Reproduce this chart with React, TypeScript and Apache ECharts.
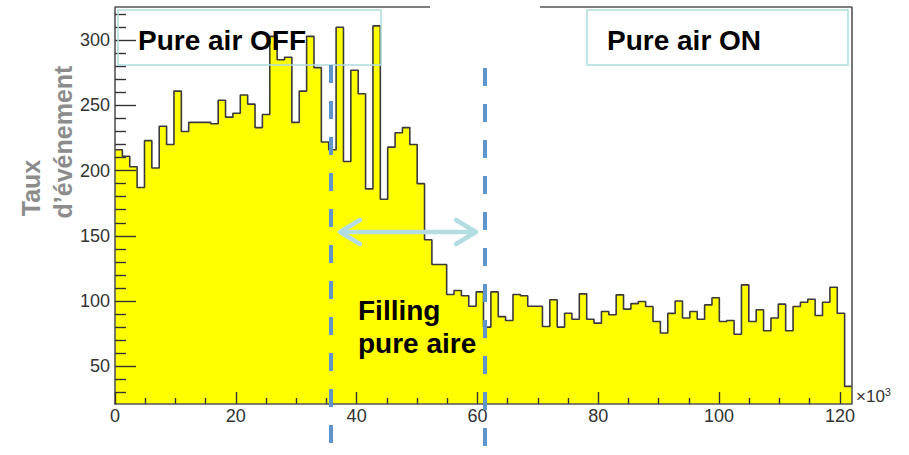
import React, { useEffect, useRef } from "react";
import * as echarts from "echarts";

// Histogram: 100 bins from 0 to 122 (x 10^3)
const binWidth = 1.22;
const counts = [
  216, 211, 203, 187, 223, 202, 234, 220, 261, 230,
  237, 237, 237, 236, 254, 241, 244, 258, 251, 233,
  243, 303, 285, 287, 237, 261, 303, 279, 222, 216,
  310, 207, 277, 259, 186, 311, 178, 218, 229, 233,
  220, 190, 147, 128, 128, 105, 108, 104, 96, 107,
  80, 107, 88, 85, 105, 104, 96, 96, 80.5, 101,
  80, 90.6, 86, 105.5, 86, 83, 92, 89.4, 104.7, 93.8,
  98, 99.6, 95.8, 84.3, 75.5, 90.5, 100, 87, 92, 86,
  97, 102.5, 84.3, 85, 74.5, 112.4, 84.3, 93.3, 77.2, 87,
  97.6, 77.2, 95.8, 99.1, 101.4, 88.9, 99.1, 110.6, 90.6, 34.5,
];

const xMajorTicks = [0, 20, 40, 60, 80, 100, 120];
const xMinorTicks = [5, 10, 15, 25, 30, 35, 45, 50, 55, 65, 70, 75, 85, 90, 95, 105, 110, 115];
const yMajorTicks = [50, 100, 150, 200, 250, 300];
const yMinorTicks = [30, 40, 60, 70, 80, 90, 110, 120, 130, 140, 160, 170, 180, 190, 210, 220, 230, 240, 260, 270, 280, 290, 310, 320];

const yTitleLines = ["Taux", "d\u2019\u00e9v\u00e9nement"];
const boxLabels = ["Pure air OFF", "Pure air ON"];
const fillingLabel = ["Filling", "pure aire"];

const FONT = "'Liberation Sans', Arial, Helvetica, sans-serif";

export default function App() {
  const ref = useRef<HTMLDivElement>(null);

  useEffect(() => {
    if (!ref.current) return;
    const chart = echarts.init(ref.current, undefined, { renderer: "svg" });

    const stepData: number[][] = counts.map((v, i) => [i * binWidth, v]);
    stepData.push([counts.length * binWidth, counts[counts.length - 1]]);

    const axisLineStyle = { color: "#555", width: 1.6 };
    const tickStyle = { color: "#333", width: 1.4 };

    const option: any = {
      animation: false,
      backgroundColor: "#fff",
      grid: { left: 115, right: 57, top: 7, bottom: 51, containLabel: false },
      xAxis: [
        {
          type: "value",
          min: 0,
          max: counts.length * binWidth,
          z: 10,
          splitLine: { show: false },
          axisLine: { show: true, lineStyle: axisLineStyle },
          axisTick: { show: true, inside: true, length: 12, customValues: xMajorTicks, lineStyle: tickStyle },
          axisLabel: {
            customValues: xMajorTicks,
            fontSize: 18,
            color: "#333",
            fontFamily: FONT,
            margin: 3,
          },
        },
        {
          type: "value",
          min: 0,
          max: counts.length * binWidth,
          z: 10,
          position: "bottom",
          splitLine: { show: false },
          axisLine: { show: false },
          axisTick: { show: true, inside: true, length: 6, customValues: xMinorTicks, lineStyle: tickStyle },
          axisLabel: { show: false },
        },
      ],
      yAxis: [
        {
          type: "value",
          min: 21,
          max: 325.5,
          z: 10,
          splitLine: { show: false },
          axisLine: { show: true, lineStyle: axisLineStyle },
          axisTick: { show: true, inside: true, length: 21, customValues: yMajorTicks, lineStyle: tickStyle },
          axisLabel: {
            customValues: yMajorTicks,
            fontSize: 18,
            color: "#333",
            fontFamily: FONT,
            margin: 5,
          },
        },
        {
          type: "value",
          min: 21,
          max: 325.5,
          z: 10,
          position: "left",
          splitLine: { show: false },
          axisLine: { show: false },
          axisTick: { show: true, inside: true, length: 11, customValues: yMinorTicks, lineStyle: tickStyle },
          axisLabel: { show: false },
        },
      ],
      series: [
        {
          type: "line",
          xAxisIndex: 0,
          yAxisIndex: 0,
          step: "end",
          symbol: "none",
          data: stepData,
          lineStyle: { color: "#3a3a3a", width: 1.6 },
          areaStyle: { color: "#ffff00", opacity: 1, origin: "start" },
          z: 2,
        },
      ],
      graphic: [
        // frame (top & right)
        { type: "line", z: 50, shape: { x1: 115, y1: 7, x2: 430, y2: 7 }, style: { stroke: "#555", lineWidth: 1.6 } },
        { type: "line", z: 50, shape: { x1: 540, y1: 7, x2: 852, y2: 7 }, style: { stroke: "#555", lineWidth: 1.6 } },
        { type: "line", z: 50, shape: { x1: 852, y1: 7, x2: 852, y2: 404 }, style: { stroke: "#555", lineWidth: 1.6 } },
        // x10^3
        {
          type: "text",
          z: 50,
          x: 856,
          y: 396,
          style: {
            text: "{a|\u00d710}{b|3}",
            rich: {
              a: { fontSize: 17, fontFamily: FONT, fill: "#333" },
              b: { fontSize: 11, fontFamily: FONT, fill: "#333", verticalAlign: "top", padding: [0, 0, 9, 0] },
            },
            verticalAlign: "middle",
          },
        },
        // y title
        {
          type: "text",
          z: 50,
          x: 31,
          y: 188,
          rotation: Math.PI / 2,
          style: { text: yTitleLines[0], font: `bold 25px ${FONT}`, fill: "#8c8c8c", align: "center", verticalAlign: "middle" },
        },
        {
          type: "text",
          z: 50,
          x: 63,
          y: 142,
          rotation: Math.PI / 2,
          style: { text: yTitleLines[1], font: `bold 25px ${FONT}`, fill: "#8c8c8c", align: "center", verticalAlign: "middle" },
        },
        // boxes
        { type: "rect", z: 50, shape: { x: 118, y: 10, width: 263, height: 55 }, style: { fill: "none", stroke: "#aedcdf", lineWidth: 1.5 } },
        { type: "rect", z: 50, shape: { x: 587, y: 10, width: 261, height: 55 }, style: { fill: "none", stroke: "#aedcdf", lineWidth: 1.5 } },
        {
          type: "text",
          z: 60,
          x: 138,
          y: 40,
          style: { text: boxLabels[0], font: `bold 28px ${FONT}`, fill: "#000", verticalAlign: "middle" },
        },
        {
          type: "text",
          z: 60,
          x: 607,
          y: 40,
          style: { text: boxLabels[1], font: `bold 28px ${FONT}`, fill: "#000", verticalAlign: "middle" },
        },
        // dashed lines
        {
          type: "line",
          z: 55,
          shape: { x1: 331, y1: 65, x2: 331, y2: 455 },
          style: { stroke: "#5f95c9", lineWidth: 4, lineDash: [18, 18] },
        },
        {
          type: "line",
          z: 55,
          shape: { x1: 485, y1: 68, x2: 485, y2: 455 },
          style: { stroke: "#5f95c9", lineWidth: 4, lineDash: [18, 18] },
        },
        // double arrow
        {
          type: "line",
          z: 56,
          shape: { x1: 340, y1: 232, x2: 476, y2: 232 },
          style: { stroke: "#b3dde2", lineWidth: 4.5 },
        },
        {
          type: "polyline",
          z: 56,
          shape: { points: [[360, 220], [340, 232], [360, 244]] },
          style: { stroke: "#b3dde2", lineWidth: 4.5, fill: "none", lineJoin: "round", lineCap: "round" },
        },
        {
          type: "polyline",
          z: 56,
          shape: { points: [[456, 220], [476, 232], [456, 244]] },
          style: { stroke: "#b3dde2", lineWidth: 4.5, fill: "none", lineJoin: "round", lineCap: "round" },
        },
        // Filling pure aire
        {
          type: "text",
          z: 60,
          x: 358,
          y: 310,
          style: { text: fillingLabel[0], font: `bold 28px ${FONT}`, fill: "#000", verticalAlign: "middle" },
        },
        {
          type: "text",
          z: 60,
          x: 358,
          y: 343,
          style: { text: fillingLabel[1], font: `bold 28px ${FONT}`, fill: "#000", verticalAlign: "middle" },
        },
      ],
    };

    chart.setOption(option);
    return () => chart.dispose();
  }, []);

  return (
    <div
      ref={ref}
      style={{ position: "absolute", left: 0, top: 0, width: 909, height: 455, background: "#fff" }}
    />
  );
}
